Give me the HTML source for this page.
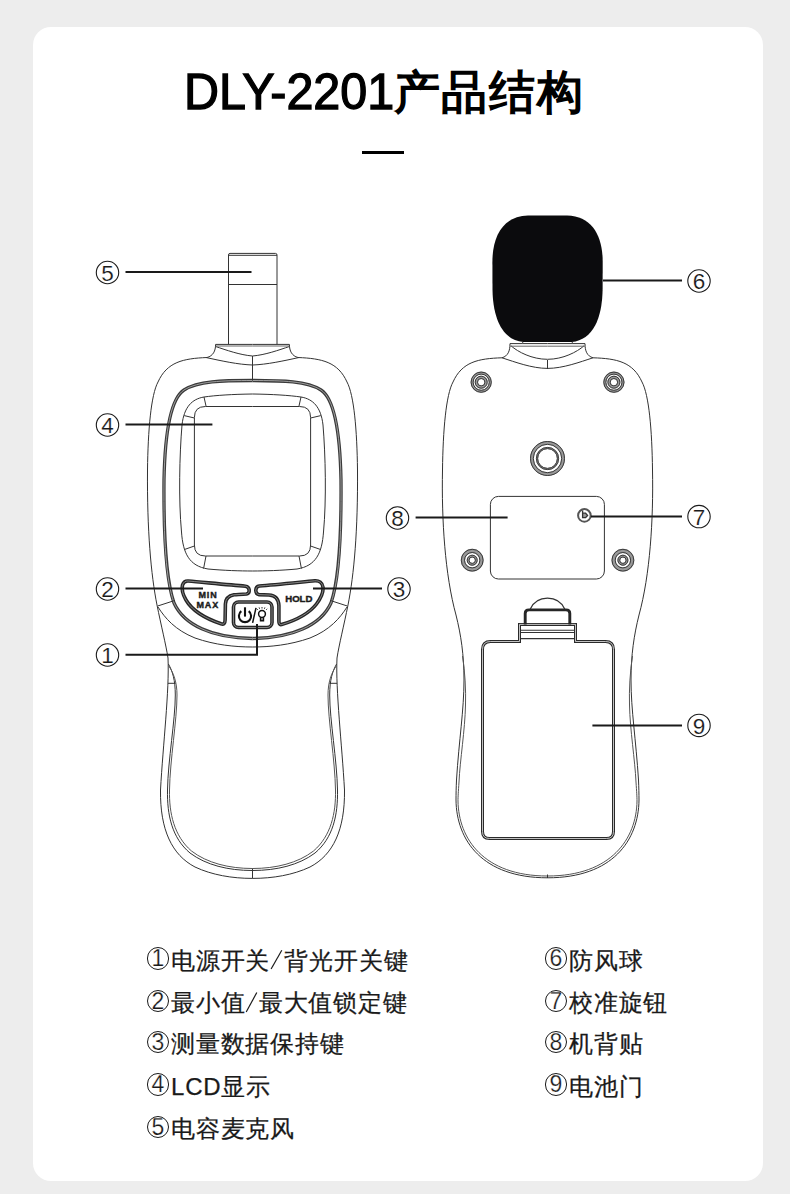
<!DOCTYPE html>
<html><head><meta charset="utf-8">
<style>
html,body{margin:0;padding:0;}
body{width:790px;height:1194px;background:#ededed;position:relative;overflow:hidden;font-family:"Liberation Sans",sans-serif;color:#111;}
.card{position:absolute;left:33px;top:27px;width:730px;height:1154px;background:#fff;border-radius:18px;}
.tl,.tc{position:absolute;line-height:60px;white-space:nowrap;color:#000;-webkit-text-stroke:2px #111;}
.dash{position:absolute;left:362px;top:151px;width:42px;height:2.5px;background:#000;}
svg{position:absolute;left:0;top:0;}
.leg{position:absolute;font-size:24px;line-height:30px;white-space:nowrap;color:#1a1a1a;letter-spacing:0.8px;-webkit-text-stroke:0.25px #1a1a1a;}
.cn{display:inline-block;box-sizing:border-box;width:22.6px;height:22.6px;border:1.1px solid #1a1a1a;border-radius:50%;text-align:center;font-size:23px;line-height:20.4px;letter-spacing:0;margin-left:1.5px;margin-right:1.9px;position:relative;top:-2.3px;font-family:"Liberation Sans",sans-serif;-webkit-text-stroke:0.25px #fff;}
.sl{display:inline-block;height:10px;}
</style></head>
<body>
<div class="card"></div>
<div class="tl" style="left:184px;top:61.5px;font-size:50.5px;-webkit-text-stroke:1.3px #000;transform:scaleX(0.96);transform-origin:0 0">DLY-2201</div><div class="tc" style="left:393.5px;top:63px;font-size:45.5px;letter-spacing:1.9px;-webkit-text-stroke:1.6px #000">产品结构</div>
<div class="dash"></div>

<svg width="790" height="1194" viewBox="0 0 790 1194">
<!-- FRONT -->
<g id="front" fill="none" stroke="#333" stroke-width="1">
<!-- mic tube -->
<path d="M228.5,344.4 V255 Q228.5,253.4 230,253.4 H275.5 Q277,253.4 277,255 V344.4"/>
<line x1="228.5" y1="255.3" x2="277" y2="255.3"/>
<line x1="228.5" y1="284.5" x2="277" y2="284.5"/>
<g id="fhalf">
<!-- collar top + outer body -->
<path d="M252.5,344.4 H215.6 C215.6,351 213,356 207,357.5 C183,358.5 167,362 158,382 C151,395 148,430 147.5,470 C147,530 151,575 157,605 C161,625 166,645 168,658 C169.5,690 163,745 160.5,790 C160,830 172,855 195,867 C212,875 232,878.4 252.5,878.4"/>
<!-- collar inner lines -->
<path d="M215.6,346.5 C226,350 240,355 252.5,356"/>
<line x1="216" y1="346" x2="252.5" y2="346" stroke="#666"/>
<path d="M206,357.5 C222,361 238,364.5 252.5,365"/>
<!-- bezel double line -->
<path stroke-width="3.3" stroke="#3a3a3a" d="M252.5,380.5 C222,380.5 198,381.2 184,390 C171,398.5 165,430 164,480 C163.5,540 166,580 174,603 C184,625 212,638 252.5,638.5"/>
<path stroke-width="0.9" stroke="#aaa" d="M252.5,380.5 C222,380.5 198,381.2 184,390 C171,398.5 165,430 164,480 C163.5,540 166,580 174,603 C184,625 212,638 252.5,638.5"/>
<!-- lower single curve under buttons -->
<path d="M158,607 C165,618 175,630 195,638 C215,645 235,647 252.5,647"/>
<line x1="157.7" y1="606" x2="175" y2="600.4"/>
<!-- inner bezel -->
<path d="M252.5,394 C232,394.3 216,395.3 204,397 C192,399 184,407 182,425 C179.5,455 178.5,500 181.5,532 C183,553 189,566 208,569 C224,570.5 240,571 252.5,571"/>
<!-- LCD -->
<path d="M252.5,406.5 H205.4 Q194.4,406.5 194.4,417.5 V545 Q194.4,556 205.4,556 H252.5"/>
<line x1="204" y1="397" x2="206" y2="406"/>
<line x1="184.2" y1="415.6" x2="194.4" y2="418"/>
<line x1="184.2" y1="549.6" x2="194.4" y2="546"/>
<line x1="203.6" y1="568.5" x2="206" y2="556"/>
<!-- grip -->
<path d="M168.4,664 C172.5,671 175.3,680 175.3,695 C175.3,720 168,760 167.5,790 C167,815 172,838 190,853 C206,865 228,870.5 252.5,870.5"/>
<path d="M168.8,666 C173.5,673 177,682 177,695 C177,720 170,760 169.5,790 C169,813 174,836 191.5,851 C207,863 229,868.5 252.5,868.5" stroke="#555"/>
<line x1="168" y1="683.3" x2="175.5" y2="683.3"/>
</g>
<use href="#fhalf" transform="matrix(-1,0,0,1,505,0)"/>
<line x1="252.5" y1="356" x2="252.5" y2="380.5"/>
<line x1="252.5" y1="868.5" x2="252.5" y2="878.4"/>
<!-- buttons -->
<g stroke="#262626" stroke-width="3.6" stroke-linejoin="round">
<path id="bminmax" d="M188.2,581 C205,582.5 230,585 245.5,586.2 C250,586.8 250.5,593 246.5,594 C242,594.5 238,594.5 234,594.8 C228.5,595.8 225.6,599 225.4,604 L225.1,620 C225.1,623.5 223.5,624.8 221,623.8 C207,619 193,612 186,600 C182.5,594 181.5,589 182.5,585 C183.5,582 185.5,580.8 188.2,581 Z"/>
<path id="bhold" d="M259.3,586 C275,584.8 300,582.2 314.8,580.8 C319,580.5 322.5,582.8 323,587.2 C323.5,592 321,598 316.5,604 C309.5,613 297,620 281.5,624.6 C279.5,625 278.9,623.5 278.9,621 L278.9,605.5 C278.5,599 275,595.2 269,595 L259.1,594.6 C255,594.3 254.3,586.8 259.3,586 Z"/>
<rect x="233.5" y="602" width="38.5" height="25.5" rx="5"/>
</g>
<g stroke="#fff" stroke-width="0.8" opacity="0.55">
<use href="#bminmax"/><use href="#bhold"/>
<rect x="233.5" y="602" width="38.5" height="25.5" rx="5"/>
</g>
</g>
<!-- BACK -->
<g id="back" fill="none" stroke="#333" stroke-width="1">
<!-- windscreen -->
<path fill="#0b0b0d" stroke="none" d="M528,215.5 C503,216 492.4,236 492.4,262 L492.5,290 C493,318 502,340 523.4,342 L571.7,342 C593.1,340 602.1,318 602.6,290 L602.7,262 C602.7,236 592.1,216 567.1,215.5 Z"/>
<g id="bhalf">
<path d="M547.5,343.6 H510 C510,351 508,356 502,357.8 C478,358.5 462,362 453,382 C446,395 443,430 442.5,470 C441.5,520 445,575 456,615 C461,635 464,655 464,680 C464,710 459,740 456.5,780 C456.2,787 456,794 456,800 C456.5,840 482,877.8 547.5,877.8"/>
<path d="M462.5,656 C465,672 466,690 465.5,705 C465,730 460,760 459,782 C458.3,792 458,797 458,801 C458.5,838.5 483.5,876 547.5,876" stroke="#555"/>
<path d="M511,345.8 C518,352 532,359.3 547.5,359.3"/>
<path d="M502,357.8 C515,362 532,368.4 547.5,368.4"/>
<line x1="510" y1="346.2" x2="547.5" y2="346.2" stroke="#666"/>
<path d="M522.7,342 V343.6 M572.4,342 V343.6" stroke="#666"/>
</g>
<use href="#bhalf" transform="matrix(-1,0,0,1,1095,0)"/>
<line x1="547.5" y1="360" x2="547.5" y2="369"/>
<line x1="547.5" y1="874.5" x2="547.5" y2="878"/>
<!-- screws -->
<g id="screws">
<circle cx="481.2" cy="382.2" r="9.10" stroke="#999" stroke-width="3.00"/><circle cx="481.2" cy="382.2" r="4.85" stroke="#999" stroke-width="3.30"/><circle cx="481.2" cy="382.2" r="10.10" stroke="#3a3a3a" stroke-width="1"/><circle cx="481.2" cy="382.2" r="8.10" stroke="#3a3a3a" stroke-width="1"/><circle cx="481.2" cy="382.2" r="6.00" stroke="#3a3a3a" stroke-width="1"/><circle cx="481.2" cy="382.2" r="3.70" stroke="#3a3a3a" stroke-width="1"/>
<circle cx="613.9" cy="382.2" r="9.10" stroke="#999" stroke-width="3.00"/><circle cx="613.9" cy="382.2" r="4.85" stroke="#999" stroke-width="3.30"/><circle cx="613.9" cy="382.2" r="10.10" stroke="#3a3a3a" stroke-width="1"/><circle cx="613.9" cy="382.2" r="8.10" stroke="#3a3a3a" stroke-width="1"/><circle cx="613.9" cy="382.2" r="6.00" stroke="#3a3a3a" stroke-width="1"/><circle cx="613.9" cy="382.2" r="3.70" stroke="#3a3a3a" stroke-width="1"/>
<circle cx="472.2" cy="560.2" r="9.30" stroke="#999" stroke-width="4.20"/><circle cx="472.2" cy="560.2" r="4.10" stroke="#999" stroke-width="2.80"/><circle cx="472.2" cy="560.2" r="10.90" stroke="#3a3a3a" stroke-width="1"/><circle cx="472.2" cy="560.2" r="7.70" stroke="#3a3a3a" stroke-width="1"/><circle cx="472.2" cy="560.2" r="5.00" stroke="#3a3a3a" stroke-width="1"/><circle cx="472.2" cy="560.2" r="3.20" stroke="#3a3a3a" stroke-width="1"/>
<circle cx="622.9" cy="560.2" r="9.30" stroke="#999" stroke-width="4.20"/><circle cx="622.9" cy="560.2" r="4.10" stroke="#999" stroke-width="2.80"/><circle cx="622.9" cy="560.2" r="10.90" stroke="#3a3a3a" stroke-width="1"/><circle cx="622.9" cy="560.2" r="7.70" stroke="#3a3a3a" stroke-width="1"/><circle cx="622.9" cy="560.2" r="5.00" stroke="#3a3a3a" stroke-width="1"/><circle cx="622.9" cy="560.2" r="3.20" stroke="#3a3a3a" stroke-width="1"/>
<circle cx="547.5" cy="458.5" r="15.60" stroke="#999" stroke-width="3.80"/><circle cx="547.5" cy="458.5" r="10.50" stroke="#999" stroke-width="2.20"/><circle cx="547.5" cy="458.5" r="17.00" stroke="#3a3a3a" stroke-width="1"/><circle cx="547.5" cy="458.5" r="14.20" stroke="#3a3a3a" stroke-width="1"/><circle cx="547.5" cy="458.5" r="11.10" stroke="#3a3a3a" stroke-width="1"/><circle cx="547.5" cy="458.5" r="9.90" stroke="#3a3a3a" stroke-width="1"/>
</g>
<!-- label plate -->
<rect x="490.4" y="496.4" width="114" height="82.6" rx="8"/>
<!-- calibration knob -->
<circle cx="584.4" cy="515.4" r="6.3" stroke="#555" stroke-width="2"/>
<path d="M582.6,510.6 V517.6 H585.6 L587.6,515.4 L585.6,513.2 H582.6" stroke="#333" stroke-width="1.3" fill="#999"/>
<!-- battery door -->
<defs><path id="bdoor" d="M519.5,641.5 V624.4 H575.5 V641.5 H605.5 Q613.5,641.5 613.5,649.5 V831.5 Q613.5,838.5 606.5,838.5 H489.5 Q482.5,838.5 482.5,831.5 V649.5 Q482.5,641.5 490.5,641.5 Z"/>
<path id="latch" d="M525.2,624.5 V613.5 Q525.2,609.9 529,609.9 H566 Q569.8,609.9 569.8,613.5 V624.5"/></defs>
<use href="#bdoor" stroke="#2a2a2a" stroke-width="3"/>
<use href="#bdoor" stroke="#fff" stroke-width="0.9" opacity="0.8"/>
<line x1="521" y1="630.2" x2="574" y2="630.2" stroke-width="1.1"/>
<line x1="521" y1="632.5" x2="574" y2="632.5" stroke-width="1.1"/>
<line x1="521" y1="638.6" x2="574" y2="638.6" stroke-width="1.1"/>
<path stroke-width="1.3" d="M530.3,609 C534,601 540,598.1 547.5,598.1 C555,598.1 561,601 564.7,609"/>
<use href="#latch" stroke="#262626" stroke-width="2.9"/>
</g>
<!-- LABELS -->
<g id="labels">
<g stroke="#1a1a1a" stroke-width="2" fill="none">
<line x1="125.5" y1="272" x2="251.5" y2="272"/>
<line x1="125.5" y1="424.4" x2="212.4" y2="424.4"/>
<line x1="125.5" y1="588.6" x2="203" y2="588.6"/>
<path d="M125.5,654.8 H257 V624"/>
<line x1="313" y1="588.6" x2="382" y2="588.6"/>
<line x1="415.6" y1="517.4" x2="507.6" y2="517.4"/>
<line x1="603" y1="280.6" x2="682" y2="280.6"/>
<line x1="591" y1="516.4" x2="682" y2="516.4"/>
<line x1="592.4" y1="725.4" x2="682" y2="725.4"/>
</g>
<g stroke="#1a1a1a" stroke-width="1.1" fill="none">
<circle cx="107.5" cy="272.5" r="11.2"/>
<circle cx="107.5" cy="425" r="11.2"/>
<circle cx="107.5" cy="589" r="11.2"/>
<circle cx="107.5" cy="655" r="11.2"/>
<circle cx="399" cy="589" r="11.2"/>
<circle cx="397.5" cy="518" r="11.2"/>
<circle cx="699" cy="281" r="11.2"/>
<circle cx="699" cy="516.6" r="11.2"/>
<circle cx="699" cy="725.4" r="11.2"/>
</g>
<g font-family="Liberation Sans" font-size="22.5" fill="#1a1a1a" text-anchor="middle" stroke="#fff" stroke-width="0.15">
<text x="107.5" y="280.6">5</text>
<text x="107.5" y="433.1">4</text>
<text x="107.5" y="597.1">2</text>
<text x="107.5" y="663.1">1</text>
<text x="399" y="597.1">3</text>
<text x="397.5" y="526.1">8</text>
<text x="699" y="289.1">6</text>
<text x="699" y="524.7">7</text>
<text x="699" y="733.5">9</text>
</g>
<!-- button texts -->
<g font-family="Liberation Sans" font-weight="700" fill="#1a1a1a" text-anchor="middle" stroke="#1a1a1a" stroke-width="0.4">
<text x="208" y="597.5" font-size="9" letter-spacing="0.9">MIN</text>
<text x="207.8" y="607.6" font-size="9" letter-spacing="0.9">MAX</text>
<text x="298.8" y="602.3" font-size="9.6" letter-spacing="0">HOLD</text>
</g>
<!-- power icon -->
<g fill="none" stroke="#111" stroke-linecap="butt">
<path stroke-width="2.1" d="M241.3,611.2 A6.1,6.1 0 1 0 248.7,611.2"/>
<line stroke-width="2.1" x1="245" y1="607.3" x2="245" y2="616.6"/>
<line stroke-width="1.5" x1="256" y1="607.8" x2="252.6" y2="622.8"/>
<circle stroke-width="1.5" cx="262" cy="614" r="3.4"/>
<path stroke-width="1.6" d="M260.6,617.5 V620.6 H263.4 V617.5"/>
<path stroke-width="0.9" d="M257.8,609.8 L256.8,608.8 M259.6,608.8 L259.1,607.4 M262,608.5 V607 M264.4,608.8 L264.9,607.4 M266.2,609.8 L267.2,608.8"/>
</g>
</g>
</svg>

<div class="leg" style="left:145px;top:945.5px"><span class="cn">1</span>电源开关<span class="sl" style="width:14.3px"></span>背光开关键</div>
<div class="leg" style="left:145px;top:988px"><span class="cn">2</span>最小值<span class="sl" style="width:13.5px"></span>最大值锁定键</div>
<div class="leg" style="left:145px;top:1029px"><span class="cn">3</span>测量数据保持键</div>
<div class="leg" style="left:145px;top:1071.7px"><span class="cn">4</span>LCD显示</div>
<div class="leg" style="left:145px;top:1113.8px"><span class="cn">5</span>电容麦克风</div>
<div class="leg" style="left:543px;top:945.5px"><span class="cn">6</span>防风球</div>
<div class="leg" style="left:543px;top:988px"><span class="cn">7</span>校准旋钮</div>
<div class="leg" style="left:543px;top:1029px"><span class="cn">8</span>机背贴</div>
<div class="leg" style="left:543px;top:1071.7px"><span class="cn">9</span>电池门</div>
<svg width="790" height="1194" style="position:absolute;left:0;top:0"><g stroke="#1a1a1a" stroke-width="1.2"><line x1="281.8" y1="950.3" x2="271.1" y2="969"/><line x1="256.8" y1="992.5" x2="246.2" y2="1012"/></g></svg>
</body></html>
